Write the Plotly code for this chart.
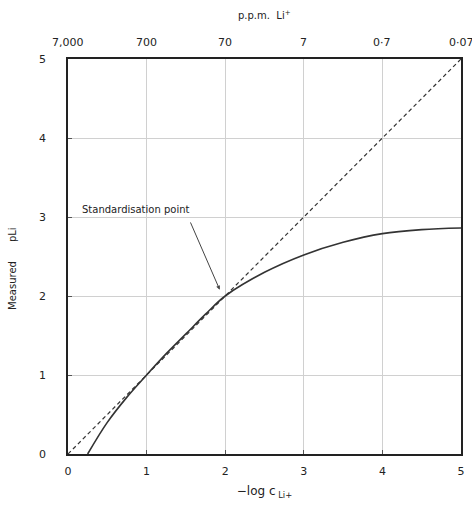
import plotly.graph_objects as go

# data
curve_x = [0.25, 0.5, 0.75, 1.0, 1.25, 1.5, 1.75, 2.0, 2.5, 3.0, 3.5, 4.0, 4.5, 5.0]
curve_y = [0.0, 0.4, 0.72, 1.0, 1.27, 1.52, 1.77, 2.0, 2.3, 2.52, 2.68, 2.79, 2.84, 2.86]
ideal_x = [0, 5]
ideal_y = [0, 5]
bottom_ticks = [0, 1, 2, 3, 4, 5]
top_labels = ["7,000", "700", "70", "7", "0·7", "0·07"]
y_ticks = [0, 1, 2, 3, 4, 5]

FONT = "DejaVu Sans"
fig = go.Figure()
fig.add_trace(go.Scatter(x=ideal_x, y=ideal_y, mode="lines",
                         line=dict(color="#333", width=1.2, dash="4px,3px"), showlegend=False))
fig.add_trace(go.Scatter(x=curve_x, y=curve_y, mode="lines", line_shape="spline",
                         line=dict(color="#333", width=1.6), showlegend=False))

# top axis labels
for xv, lab in zip(bottom_ticks, top_labels):
    fig.add_annotation(x=xv, y=1, xref="x", yref="paper", yanchor="bottom", yshift=8,
                       text=lab, showarrow=False, font=dict(family=FONT, size=11, color="#222"))

fig.add_annotation(x=0.5, y=1, xref="paper", yref="paper", yanchor="bottom", yshift=36,
                   text="p.p.m.  Li<sup>+</sup>", showarrow=False,
                   font=dict(family=FONT, size=10, color="#222"))
fig.add_annotation(x=-0.16, y=2.35, xref="paper", yref="y", textangle=-90,
                   text="Measured      pLi", showarrow=False,
                   font=dict(family=FONT, size=10, color="#222"))

fig.add_annotation(x=1.93, y=2.08, ax=1.55, ay=2.95, axref="x", ayref="y",
                   text="", showarrow=True, arrowhead=2, arrowsize=0.8, arrowwidth=1,
                   arrowcolor="#444")
fig.add_annotation(x=0.15, y=3.1, text="Standardisation point", showarrow=False,
                   xanchor="left", font=dict(family=FONT, size=10, color="#222"))

axis_common = dict(showline=True, linecolor="#222", linewidth=1.5, mirror=True,
                   showgrid=True, gridcolor="#d0d0d0", gridwidth=1, zeroline=False,
                   ticks="inside", ticklen=4, tickcolor="#555",
                   tickfont=dict(family=FONT, size=11, color="#222"))

fig.update_layout(
    width=472, height=506,
    margin=dict(l=68, r=7, t=59, b=52),
    plot_bgcolor="white", paper_bgcolor="white",
    xaxis=dict(range=[0, 5], tickvals=bottom_ticks, ticklabelstandoff=6, **axis_common,
               title=dict(text="−log c<sub> Li+</sub>", font=dict(family=FONT, size=12, color="#222"), standoff=10)),
    yaxis=dict(range=[0, 5], tickvals=y_ticks, ticklabelstandoff=18, **axis_common),
)

fig.write_html("out.html")
